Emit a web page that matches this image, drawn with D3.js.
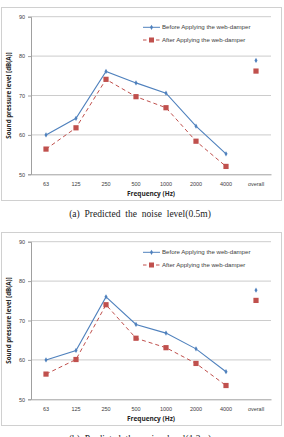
<!DOCTYPE html>
<html>
<head>
<meta charset="utf-8">
<script src="https://cdn.jsdelivr.net/npm/d3@7"></script>
<style>
  html, body { margin: 0; padding: 0; background: #fff; }
  svg { display: block; }
</style>
</head>
<body>
<div class="svg-container"></div>
<script>
(function () {

	"use strict";

	// data
	var categories = ["63", "125", "250", "500", "1000", "2000", "4000", "overall"];
	var yTicks = [50, 60, 70, 80, 90];
	var seriesNames = ["Before Applying the web-damper", "After Applying the web-damper"];
	var captions = ["(a) Predicted the noise level(0.5m)", "(b) Predicted the noise level(1.2m)"];

	var before_05 = [60.0, 64.2, 76.1, 73.2, 70.6, 62.2, 55.2, 78.9];
	var after_05 = [56.4, 61.8, 74.1, 69.7, 66.9, 58.4, 52.0, 76.2];
	var before_12 = [60.0, 62.4, 76.0, 69.0, 66.8, 62.8, 57.0, 77.7];
	var after_12 = [56.4, 60.1, 74.0, 65.5, 63.1, 59.1, 53.5, 75.1];

	var panels = [
		{ before: before_05, after: after_05, caption: captions[0] },
		{ before: before_12, after: after_12, caption: captions[1] }
	];

	var width = 284, height = 437, panel_step = 225;
	var blue = "#4f81bd", red = "#c0504d", grid = "#bfbfbf";

	var svg = d3.select(".svg-container").append("svg")
		.attr("width", width)
		.attr("height", height);

	var x = d3.scaleBand().domain(categories).range([31, 271]);
	var y = d3.scaleLinear().domain([50, 90]).range([174.3, 16.7]);

	panels.forEach(function (p, i) {

		var g = svg.append("g")
			.attr("transform", "translate(0," + (panel_step * i) + ")");

		// chart frame
		g.append("rect")
			.attr("x", 1.5).attr("y", 7.5)
			.attr("width", 280).attr("height", 193)
			.attr("fill", "#fff")
			.attr("stroke", "#d0d0d0");

		// gridlines
		g.selectAll(".grid")
			.data(yTicks.slice(1))
			.enter().append("line")
			.attr("x1", 31).attr("x2", 271)
			.attr("y1", function (d) { return y(d); })
			.attr("y2", function (d) { return y(d); })
			.attr("stroke", grid)
			.attr("stroke-width", 0.8);

		// y axis
		var yAxis = g.append("g")
			.attr("transform", "translate(31,0)")
			.call(d3.axisLeft(y).tickValues(yTicks).tickSize(3).tickPadding(3));
		yAxis.select(".domain").attr("stroke", "#a0a0a0");
		yAxis.selectAll(".tick line").attr("stroke", "#a0a0a0");
		yAxis.selectAll("text")
			.attr("font-family", "Liberation Sans, Arial, sans-serif")
			.attr("font-size", 5.5)
			.attr("fill", "#404040");

		// x axis
		var xAxis = g.append("g")
			.attr("transform", "translate(0," + y(50) + ")")
			.call(d3.axisBottom(x).tickSize(0).tickPadding(8));
		xAxis.select(".domain").attr("stroke", "#a0a0a0");
		xAxis.selectAll("text")
			.attr("font-family", "Liberation Sans, Arial, sans-serif")
			.attr("font-size", 5.5)
			.attr("fill", "#404040");

		// axis titles
		g.append("text")
			.attr("x", 151).attr("y", 196)
			.attr("text-anchor", "middle")
			.attr("font-family", "Open Sans, sans-serif")
			.attr("font-weight", "bold")
			.attr("font-size", 6.5)
			.attr("fill", "#262626")
			.text("Frequency (Hz)");

		g.append("text")
			.attr("transform", "translate(11," + ((y(50) + y(90)) / 2) + ") rotate(-90)")
			.attr("text-anchor", "middle")
			.attr("font-family", "Open Sans, sans-serif")
			.attr("font-weight", "bold")
			.attr("font-size", 6.2)
			.attr("fill", "#262626")
			.text("Sound pressure level [dB(A)]");

		var cx = function (d, j) { return x(categories[j]) + x.bandwidth() / 2; };
		var line = d3.line()
			.x(function (d, j) { return cx(d, j); })
			.y(function (d) { return y(d); });

		// lines (overall point stands alone)
		g.append("path")
			.datum(p.after.slice(0, 7))
			.attr("d", line)
			.attr("fill", "none")
			.attr("stroke", red)
			.attr("stroke-width", 1)
			.attr("stroke-dasharray", "4,3");

		g.append("path")
			.datum(p.before.slice(0, 7))
			.attr("d", line)
			.attr("fill", "none")
			.attr("stroke", blue)
			.attr("stroke-width", 1.1);

		// markers
		g.selectAll(".after")
			.data(p.after)
			.enter().append("rect")
			.attr("x", function (d, j) { return cx(d, j) - 2.6; })
			.attr("y", function (d) { return y(d) - 2.6; })
			.attr("width", 5.2).attr("height", 5.2)
			.attr("fill", red);

		g.selectAll(".before")
			.data(p.before)
			.enter().append("path")
			.attr("d", d3.symbol().type(d3.symbolDiamond).size(8))
			.attr("transform", function (d, j) { return "translate(" + cx(d, j) + "," + y(d) + ")"; })
			.attr("fill", blue);

		// legend
		var legend = g.selectAll(".legend")
			.data(seriesNames)
			.enter().append("g")
			.attr("transform", function (d, j) { return "translate(0," + (27.3 + 12.7 * j) + ")"; });

		legend.append("line")
			.attr("x1", 143).attr("x2", 160)
			.attr("stroke", function (d, j) { return j ? red : blue; })
			.attr("stroke-width", 1)
			.attr("stroke-dasharray", function (d, j) { return j ? "3.5,3" : null; });

		legend.filter(function (d, j) { return j === 1; }).append("rect")
			.attr("x", 149).attr("y", -2.5).attr("width", 5).attr("height", 5)
			.attr("fill", red);

		legend.filter(function (d, j) { return j === 0; }).append("path")
			.attr("d", d3.symbol().type(d3.symbolDiamond).size(8))
			.attr("transform", "translate(151.5,0)")
			.attr("fill", blue);

		legend.append("text")
			.attr("x", 162).attr("y", 2)
			.attr("font-family", "Liberation Sans, Arial, sans-serif")
			.attr("font-size", 6.1)
			.attr("fill", "#404040")
			.text(function (d) { return d; });

		// caption
		g.append("text")
			.attr("x", 140).attr("y", 217)
			.attr("text-anchor", "middle")
			.attr("font-family", "Liberation Serif, Times New Roman, serif")
			.attr("font-size", 9.5)
			.attr("word-spacing", 2.5)
			.attr("fill", "#222")
			.text(p.caption);
	});

})();
</script>
</body>
</html>
